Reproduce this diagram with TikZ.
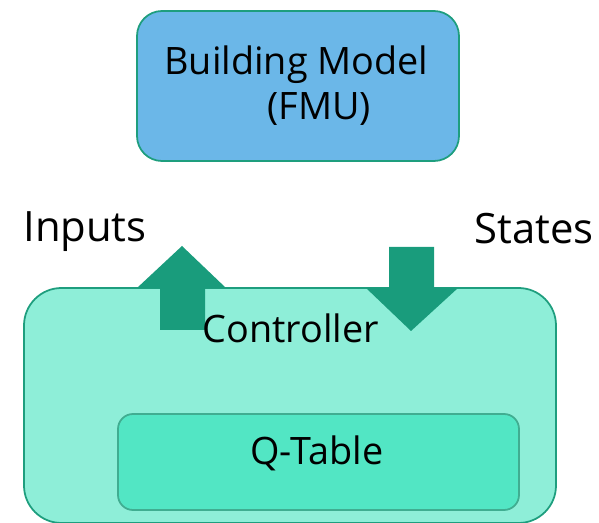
\documentclass[tikz,border=0pt]{standalone}
\usepackage{fontspec}
\setmainfont{Open Sans}
\definecolor{fmublue}{RGB}{107,183,232}
\definecolor{ctrlmint}{RGB}{142,238,216}
\definecolor{qmint}{RGB}{82,230,196}
\definecolor{edgeteal}{RGB}{30,158,126}
\definecolor{flowteal}{RGB}{25,156,124}

\begin{document}
\begin{tikzpicture}[x=0.02cm,y=-0.02cm,
  lbl/.style={inner sep=0pt,anchor=base west,font=\fontsize{21.5}{26}\selectfont},
  biglbl/.style={lbl,font=\fontsize{23.8}{29}\selectfont}]
  \clip (0,0) rectangle (599,523);
  % building model
  \draw[edgeteal,line width=1pt,fill=fmublue,rounded corners=0.5cm](137,11)rectangle(459,161);
  \node[lbl] (fmutxt) at (164,75) {Building Model};
  \node[lbl] (fmusub) at (267,120) {(FMU)};
  % controller with q-table
  \draw[edgeteal,line width=1pt,fill=ctrlmint,rounded corners=0.75cm](24,288)rectangle(556,523);
  \draw[edgeteal!85,line width=1pt,fill=qmint,rounded corners=0.3cm](118,414)rectangle(519,510);
  \node[lbl] (qtab) at (250,465) {Q-Table};
  % flow arrows
  \fill[flowteal](160,330)--(160,288)--(137,288)--(182,246)--(226,288)--(205,288)--(205,330)--cycle;
  \fill[flowteal](389,247)--(434,247)--(434,288)--(458,288)--(411,331)--(366,288)--(389,288)--cycle;
  \node[lbl] (ctrl) at (202,343) {Controller};
  \node[biglbl] (inp) at (23,242) {Inputs};
  \node[biglbl] (sts) at (474,244) {States};
\end{tikzpicture}
\end{document}
